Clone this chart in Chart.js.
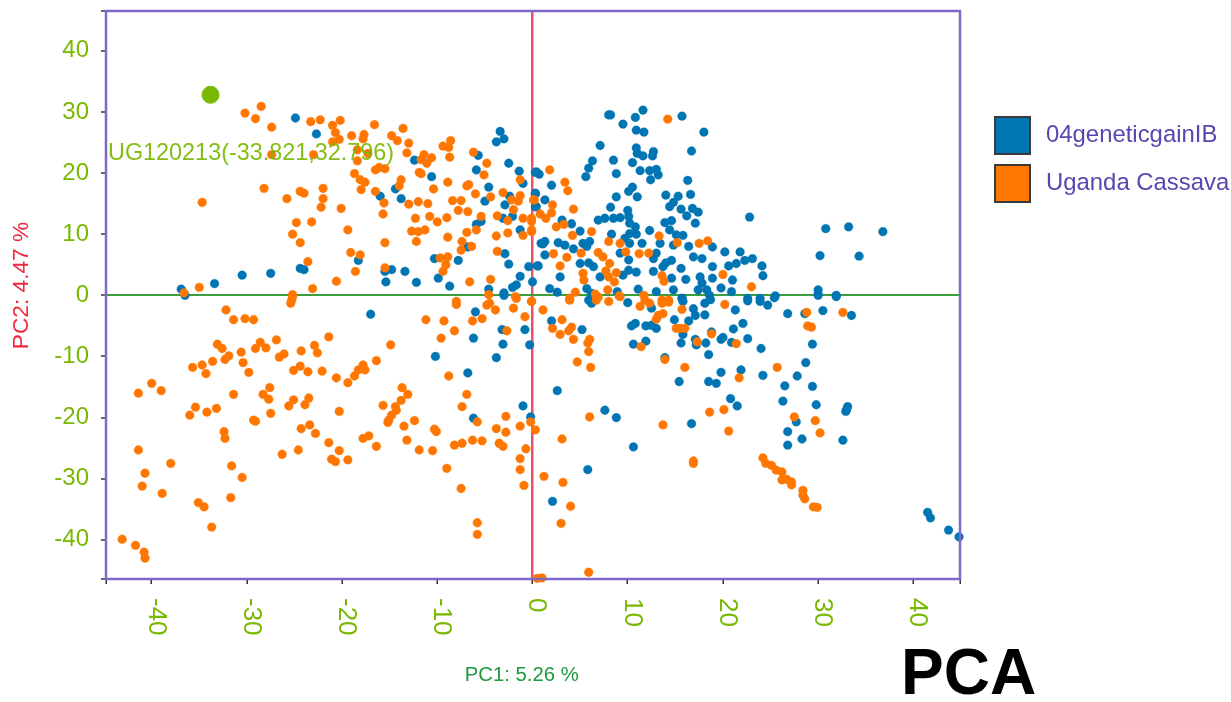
<!DOCTYPE html>
<html><head><meta charset="utf-8">
<script src="https://cdn.jsdelivr.net/npm/chart.js@4/dist/chart.umd.min.js"></script>
<style>html,body{margin:0;padding:0;background:#fff}canvas{display:block}</style></head>
<body><div style="width:1231px;height:702px"><canvas id="c"></canvas></div>
<script>
const seriesNames = ["04geneticgainIB", "Uganda Cassava"];
const xTickValues = [-44.8,-40,-30,-20,-10,0,10,20,30,40,44.9];
const yTickValues = [-46.4,-40,-30,-20,-10,0,10,20,30,40,46.5];
const highlightPoint = [[-33.821,32.796]];
const highlightLabel = "UG120213(-33.821,32.796)";
const geneticGainIB = [
[-36.9,1.0],[-33.4,1.9],[-30.5,3.3],[-27.5,3.6],[-24.9,29.0],[-22.7,26.4],[-24.4,4.4],[-24.0,4.2],[-18.3,5.7],[-16.0,16.2],[-14.4,17.4],[-13.8,15.8],[-12.4,22.1],[-10.6,19.4],[-15.5,3.9],[-14.8,4.2],[-15.4,2.2],[-13.4,3.9],[-12.2,2.1],[-10.3,6.0],[-9.9,2.8],[-8.7,1.5],[-7.8,5.7],[-6.8,7.9],[-3.4,26.8],[-3.8,25.1],[-3.0,25.6],[-5.7,22.9],[-5.9,20.5],[-2.5,21.6],[-1.4,20.3],[0.3,20.1],[-1.0,18.3],[-4.6,17.7],[-5.0,15.4],[-2.4,16.2],[-2.9,14.8],[-2.1,12.9],[0.3,16.6],[0.3,14.5],[-5.9,11.6],[-5.4,12.1],[-3.1,12.6],[-1.3,10.7],[0.9,8.5],[-2.9,6.8],[-2.5,5.1],[-0.4,4.7],[0.5,4.8],[-1.3,3.1],[-1.7,1.7],[-2.1,1.3],[0.0,2.2],[-4.6,1.0],[-3.0,0.4],
[8.0,29.5],[8.2,29.5],[11.6,30.3],[10.8,29.1],[9.5,28.0],[15.7,29.3],[18.0,26.7],[10.9,27.0],[11.7,26.7],[7.1,24.5],[10.9,24.1],[11.0,23.2],[11.6,22.8],[12.7,23.5],[12.6,22.8],[16.7,23.6],[6.3,22.0],[5.9,20.8],[5.6,19.4],[8.5,22.1],[8.8,19.9],[10.5,21.7],[11.3,20.4],[12.3,20.4],[13.0,20.6],[13.2,19.7],[12.4,18.9],[16.3,18.8],[0.4,20.2],[0.7,19.8],[2.0,18.0],[0.3,16.7],[1.3,15.6],[0.4,14.5],[10.5,17.7],[10.1,17.0],[11.0,16.1],[8.8,16.1],[14.0,16.4],[16.6,16.5],[15.3,16.2],[14.8,15.2],[14.4,14.5],[15.6,14.1],[16.8,14.2],[17.4,13.6],[16.2,13.0],[8.2,14.4],[10.0,13.9],[22.8,12.8],[30.8,10.9],[33.2,11.2],[36.8,10.4],[30.2,6.5],[34.3,6.4],[6.9,12.3],[7.6,12.6],[8.5,12.6],[9.2,12.7],[10.1,12.9],[10.2,11.8],[10.8,11.2],[4.1,11.7],[3.1,12.3],[13.9,11.9],[14.6,12.2],[17.1,11.8],[12.3,10.6],[10.2,10.1],[10.9,10.0],[9.7,9.3],[14.4,10.7],[15.1,9.9],[15.8,9.8],[5.0,10.5],[8.3,10.0],[1.3,8.8],[1.1,8.4],[2.7,8.6],[3.4,8.2],[4.3,7.6],[5.3,8.5],[6.0,8.8],[10.2,8.5],[11.5,8.5],[13.4,8.5],[14.8,8.2],[16.4,8.0],[18.9,7.9],[20.2,7.1],[21.8,7.1],[16.9,6.3],[17.8,6.0],[18.9,4.7],[23.1,6.0],[22.3,5.7],[21.4,5.2],[20.6,4.8],[24.1,4.8],[24.2,3.2],[1.3,6.6],[0.6,4.8],[2.9,3.0],[5.0,5.2],[5.9,5.3],[6.4,4.7],[9.2,6.9],[10.1,5.8],[9.5,3.3],[10.1,4.1],[10.9,3.8],[7.1,3.0],[12.7,3.9],[13.0,6.9],[12.7,6.0],[13.7,4.7],[14.6,5.7],[14.0,5.3],[15.6,4.4],[14.6,2.8],[16.1,2.6],[17.6,3.0],[18.9,2.8],[17.8,2.0],[21.0,2.5],[19.8,1.2],[20.9,0.6],[17.4,0.9],[18.3,0.9],[14.8,0.9],[13.0,0.6],[11.1,1.0],[8.9,0.6],[1.8,1.1],[2.6,0.5],[5.7,1.1],[6.2,0.3],[25.5,-0.1],[30.0,0.9],[30.0,0.2],[31.9,0.0],[18.6,0.0],[22.6,-0.5],[23.9,-0.5],[15.7,-0.5],[5.7,8.0],
[-17.0,-3.1],[-10.2,-10.0],[-6.8,-12.7],[-6.2,-7.0],[-6.0,-2.7],[-3.2,-5.6],[-3.1,-8.0],[-3.8,-10.2],[-0.8,-5.6],[-0.3,-8.1],[-1.0,-18.1],[-6.2,-20.1],[-0.2,-19.9],[-36.5,0.0],[-3.0,0.0],
[2.0,-4.2],[5.2,-5.6],[2.6,-15.6],[7.6,-18.8],[8.8,-20.0],[10.6,-24.8],[5.8,-28.5],[2.1,-33.7],[5.9,-0.8],[6.2,-1.3],[10.0,-1.2],[10.4,-5.0],[10.8,-4.6],[11.9,-5.0],[13.0,-5.4],[12.5,-2.1],[12.5,-4.9],[10.6,-8.0],[11.9,-7.5],[14.9,-4.0],[15.7,-0.5],[15.8,-1.0],[16.9,-2.2],[17.1,-3.3],[18.1,-3.2],[16.4,-4.2],[18.1,-1.3],[18.7,-0.7],[15.6,-7.8],[15.8,-6.4],[17.1,-7.2],[17.2,-8.1],[18.2,-7.8],[18.8,-6.0],[18.5,-9.7],[21.1,-5.5],[22.1,-4.6],[21.3,-2.4],[22.6,-0.9],[23.9,-1.0],[24.7,-1.6],[25.4,-0.4],[26.8,-3.0],[28.6,-3.0],[30.5,-2.5],[30.0,0.0],[31.9,-0.2],[33.5,-3.3],[19.8,-7.2],[20.0,-6.9],[20.9,-7.7],[22.6,-7.1],[24.0,-8.7],[29.4,-8.0],[28.7,-11.0],[27.8,-13.2],[26.5,-14.8],[29.4,-14.9],[26.3,-17.3],[29.8,-17.9],[27.7,-20.7],[26.8,-22.3],[28.3,-23.5],[26.8,-24.5],[32.6,-23.7],[33.1,-18.2],[33.0,-18.7],[32.9,-19.0],[24.2,-13.1],[21.9,-12.2],[19.8,-12.6],[15.4,-14.1],[18.5,-14.1],[19.3,-14.4],[20.8,-16.9],[21.5,-18.1],[16.7,-21.0],[13.9,-10.2],[41.5,-35.5],[41.8,-36.4],[43.7,-38.4],[44.8,-39.5]
];
const ugandaCassava = [
[-30.2,29.8],[-29.1,28.9],[-28.5,30.9],[-27.4,27.5],[-23.3,28.4],[-22.3,28.7],[-20.2,28.6],[-21.0,27.8],[-20.7,26.6],[-20.3,25.5],[-21.0,25.1],[-19.0,26.1],[-17.7,26.3],[-17.8,25.6],[-16.6,27.9],[-14.8,26.1],[-14.2,25.3],[-13.6,27.3],[-13.0,24.9],[-13.2,23.3],[-17.3,23.2],[-27.4,23.0],[-23.0,23.0],[-18.4,23.8],[-18.4,22.0],[-8.6,25.3],[-9.4,24.4],[-8.8,24.2],[-8.7,22.6],[-11.4,23.0],[-11.7,22.2],[-10.6,22.5],[-11.1,21.6],[-6.2,23.4],[-4.8,21.6],[-5.1,19.7],[-16.5,20.5],[-16.1,20.9],[-15.5,20.7],[-18.7,19.9],[-18.1,18.9],[-17.6,18.5],[-18.0,17.3],[-13.8,18.9],[-14.0,17.9],[-11.9,20.1],[-11.7,19.9],[-8.9,18.5],[-10.4,17.4],[-6.9,17.9],[-6.7,18.1],[-6.0,16.6],[-1.3,18.9],[-3.1,16.8],[-1.3,16.3],[-2.2,15.6],[-1.5,15.4],[-4.4,16.1],[0.1,15.6],[-28.2,17.5],[-25.8,15.8],[-24.4,17.0],[-24.0,16.7],[-22.0,17.5],[-22.0,15.8],[-22.2,14.4],[-20.1,14.2],[-34.7,15.2],[-16.5,17.0],[-15.6,15.1],[-15.7,13.3],[-13.0,14.9],[-12.0,15.3],[-11.0,15.0],[-8.4,15.5],[-7.5,15.5],[-7.8,13.9],[-6.8,13.7],[-12.3,12.6],[-10.8,12.9],[-10.0,12.0],[-9.0,12.7],[-5.4,12.9],[-3.7,13.0],[-2.6,12.2],[-2.0,14.0],[-1.0,12.6],[-0.1,12.1],[-24.8,11.9],[-23.2,12.0],[-25.2,10.0],[-24.4,8.6],[-19.4,10.7],[-15.5,8.6],[-12.7,10.5],[-12.0,10.4],[-11.3,10.7],[-12.2,8.8],[-8.9,9.5],[-6.9,10.3],[-5.9,10.7],[-7.4,8.8],[-7.5,7.4],[-6.4,8.0],[-3.8,9.7],[-2.6,10.2],[-1.0,9.8],[-0.1,10.7],[-3.7,7.2],[-19.1,7.0],[-18.1,6.6],[-23.6,5.5],[-18.6,3.9],[-15.5,4.5],[-20.6,2.3],[-8.9,6.3],[-9.7,6.1],[-9.1,5.0],[-9.4,3.9],[-6.6,2.2],[-4.4,2.6],[-35.0,1.3],[-36.6,0.4],[-25.2,0.1],[-23.1,1.1],[-4.6,0.1],[-1.8,-0.2],[-0.1,-1.0],[-8.0,-1.0],[-25.3,-0.8],
[14.2,28.8],[1.8,20.5],[3.4,18.5],[3.7,17.1],[4.3,14.1],[0.2,15.6],[2.1,14.8],[2.0,13.5],[0.8,13.3],[1.4,12.6],[-0.1,12.6],[-0.1,10.4],[2.5,11.2],[3.3,11.6],[4.2,9.8],[6.2,10.4],[8.0,8.8],[9.2,8.5],[9.8,7.1],[11.2,6.8],[12.2,6.9],[13.3,9.7],[15.2,8.6],[17.5,8.5],[18.4,8.9],[2.2,6.8],[3.6,6.2],[2.9,4.8],[5.1,6.9],[6.9,7.0],[7.4,6.3],[8.1,5.2],[7.7,4.0],[8.8,3.7],[8.0,3.0],[8.6,2.2],[5.3,3.6],[5.4,2.5],[13.6,3.2],[13.8,2.3],[20.0,3.4],[23.0,1.4],[7.9,0.9],[4.5,0.5],[6.6,0.2],[11.7,0.0],[9.1,-0.1],[3.9,-0.5],[13.6,-0.8],[14.3,-0.8],[6.9,-0.3],
[-32.2,-2.4],[-31.4,-4.0],[-30.2,-3.8],[-29.3,-4.0],[-33.1,-8.0],[-32.6,-8.7],[-31.9,-9.9],[-32.3,-10.5],[-30.6,-9.3],[-30.4,-11.0],[-29.8,-12.6],[-33.6,-10.8],[-35.7,-11.8],[-34.7,-11.4],[-34.3,-12.8],[-29.1,-8.7],[-28.6,-7.7],[-28.0,-8.6],[-26.9,-7.3],[-26.6,-10.1],[-26.1,-9.6],[-24.3,-9.1],[-22.9,-8.2],[-22.6,-9.4],[-21.4,-6.8],[-25.1,-12.3],[-24.4,-11.6],[-23.6,-12.5],[-22.1,-12.4],[-20.6,-13.5],[-19.4,-14.3],[-18.7,-13.2],[-18.3,-12.2],[-17.8,-11.4],[-17.6,-12.2],[-16.4,-10.7],[-14.9,-8.1],[-40.0,-14.4],[-41.4,-16.0],[-39.0,-15.6],[-35.4,-18.3],[-36.0,-19.6],[-34.2,-19.1],[-33.2,-18.5],[-31.4,-16.2],[-28.3,-16.2],[-27.6,-15.1],[-27.7,-17.0],[-27.5,-19.3],[-25.1,-17.1],[-25.6,-18.1],[-23.5,-16.8],[-23.9,-17.9],[-29.3,-20.4],[-29.1,-20.6],[-32.4,-22.3],[-32.3,-23.4],[-24.3,-21.8],[-23.4,-21.2],[-22.8,-22.6],[-20.3,-19.0],[-21.4,-24.1],[-20.3,-25.4],[-21.1,-26.8],[-20.7,-27.2],[-19.4,-26.9],[-26.3,-26.0],[-24.6,-25.3],[-17.8,-23.4],[-17.2,-23.0],[-16.4,-24.7],[-13.7,-15.1],[-13.1,-16.2],[-13.8,-17.2],[-14.4,-18.2],[-14.3,-18.8],[-15.7,-18.0],[-14.8,-19.6],[-15.1,-20.4],[-15.2,-20.8],[-13.5,-21.4],[-12.4,-20.5],[-13.2,-23.7],[-11.9,-25.3],[-10.5,-25.4],[-10.3,-21.9],[-10.1,-22.3],[-41.4,-25.3],[-40.7,-29.1],[-41.0,-31.2],[-38.0,-27.5],[-38.9,-32.4],[-31.6,-27.9],[-30.5,-29.8],[-31.7,-33.1],[-35.1,-33.9],[-34.5,-34.6],[-33.7,-37.9],[-43.1,-39.9],[-41.7,-40.9],[-40.8,-42.0],[-40.7,-43.0],[-11.2,-4.0],[-9.3,-4.2],[-8.0,-1.5],[-8.2,-5.8],[-9.6,-7.0],[-8.8,-13.2],[-6.9,-16.2],[-7.4,-18.2],[-5.8,-20.7],[-2.8,-19.8],[-3.8,-21.8],[-2.8,-22.4],[-1.3,-21.4],[-0.2,-20.7],[0.3,-22.0],[-6.3,-23.7],[-5.3,-23.8],[-7.4,-24.2],[-8.2,-24.5],[-3.5,-24.2],[-3.1,-24.7],[-0.7,-25.1],[-1.3,-26.7],[-1.3,-28.5],[-9.0,-28.3],[-0.9,-31.1],[-7.5,-31.6],[-5.8,-37.2],[-5.8,-39.1],[-6.3,-4.2],[-5.3,-3.8],[-4.8,-1.6],[-4.5,-1.3],[-3.9,-2.4],[-2.0,-2.1],[-0.8,-3.5],[-2.7,-5.8],[-0.1,-1.0],[-1.7,-0.5],[-25.4,-1.3],[-25.2,-0.2],[0.5,-46.3],[1.0,-46.2],
[1.1,-2.4],[3.1,-4.0],[2.1,-5.4],[2.9,-6.4],[4.1,-5.2],[3.8,-5.8],[4.3,-7.2],[6.0,-7.2],[5.8,-7.8],[5.9,-9.2],[4.7,-10.9],[6.1,-11.8],[3.9,-0.8],[6.7,-0.8],[8.0,-1.0],[9.2,-0.2],[11.8,-0.8],[11.3,-1.8],[12.3,-1.3],[13.6,-1.3],[14.3,-1.1],[13.7,-3.0],[13.2,-3.3],[13.0,-3.9],[15.7,-2.3],[20.2,-1.5],[15.1,-5.4],[16.0,-5.4],[15.5,-5.4],[11.4,-8.4],[17.3,-7.6],[18.8,-6.3],[21.4,-7.9],[13.9,-10.5],[16.0,-11.8],[21.7,-13.5],[25.7,-11.8],[28.8,-2.8],[32.6,-2.8],[28.9,-5.0],[29.3,-5.2],[6.0,-19.9],[3.1,-23.5],[13.7,-21.2],[18.6,-19.1],[20.1,-18.7],[20.6,-22.2],[27.5,-19.9],[29.7,-20.5],[30.2,-22.5],[16.9,-27.1],[16.9,-27.5],[1.2,-29.6],[3.2,-30.6],[4.0,-34.5],[3.0,-37.3],[5.9,-45.3],[24.2,-26.6],[24.5,-27.5],[25.1,-27.8],[25.6,-28.6],[26.2,-28.9],[26.2,-30.2],[26.7,-30.1],[27.2,-30.5],[27.2,-31.0],[28.4,-31.9],[28.4,-32.7],[28.6,-33.3],[29.5,-34.6],[29.9,-34.7]
];
const toPoints = list => list.map(p => ({x:p[0], y:p[1]}));
const BLUE="#0075B4", ORANGE="#FF7700", LIME="#78B800", PURPLE="#7F68C9", RED="#E9506C", GREEN="#3C9E3C", FF='"Liberation Sans", Arial, sans-serif';

const extras = {
  id:'extras',
  afterDatasetsDraw(chart){
    const {ctx, chartArea:a} = chart;
    ctx.save();
    ctx.strokeStyle = PURPLE; ctx.lineWidth = 2.5;
    ctx.strokeRect(a.left, a.top, a.right-a.left, a.bottom-a.top);
    ctx.fillStyle = "rgba(120,184,0,0.92)"; ctx.font = '23.4px '+FF;
    ctx.textAlign='left'; ctx.textBaseline='middle';
    ctx.fillText(highlightLabel, 108, 154);
    ctx.restore();
  },
  afterDraw(chart){
    const {ctx} = chart;
    ctx.save();
    const colours=[BLUE,ORANGE];
    seriesNames.forEach((name,i)=>{
      const top = 117+i*48;
      ctx.fillStyle = colours[i]; ctx.strokeStyle="#3a3a3a"; ctx.lineWidth=2;
      ctx.fillRect(995,top,35,37); ctx.strokeRect(995,top,35,37);
      ctx.fillStyle="#5B45B0"; ctx.font='23.9px '+FF; ctx.textAlign='left'; ctx.textBaseline='middle';
      ctx.fillText(name,1046,top+18);
    });
    ctx.fillStyle="#000"; ctx.font='bold 64px '+FF; ctx.textAlign='left'; ctx.textBaseline='alphabetic';
    ctx.fillText("PCA",901,694);
    ctx.restore();
  }
};

new Chart(document.getElementById('c'), {
  type:'scatter',
  data:{datasets:[
    {label:seriesNames[0], data:toPoints(geneticGainIB), backgroundColor:BLUE, borderColor:"rgba(0,117,180,0.3)", borderWidth:1, pointRadius:4.4, order:3, clip:false},
    {label:seriesNames[1], data:toPoints(ugandaCassava), backgroundColor:ORANGE, borderColor:"rgba(255,119,0,0.3)", borderWidth:1, pointRadius:4.4, order:2, clip:false},
    {label:highlightLabel, data:toPoints(highlightPoint), backgroundColor:LIME, borderColor:LIME, pointRadius:8.5, order:1, clip:false}
  ]},
  options:{
    responsive:true, maintainAspectRatio:false, animation:false,
    layout:{padding:{top:11,right:271,left:0,bottom:0}},
    plugins:{legend:{display:false},tooltip:{enabled:false}},
    scales:{
      x:{type:'linear',min:-44.8,max:44.9,
        afterBuildTicks:s=>{s.ticks=xTickValues.map(v=>({value:v})); s._getXAxisLabelAlignment=()=>'left';},
        afterFit:s=>{s.height=123;s.paddingLeft=0;s.paddingRight=0;s.paddingTop=0;s.paddingBottom=0;},
        grid:{drawOnChartArea:true,drawTicks:true,tickLength:5,tickColor:"#333",tickWidth:1.5,
          color:c=>c.tick&&c.tick.value===0?RED:"rgba(0,0,0,0)",lineWidth:2.5},
        border:{display:false},
        ticks:{autoSkip:false,minRotation:-90,maxRotation:-90,color:LIME,padding:14,labelOffset:4,
          font:{family:FF,size:26},callback:v=>Number.isInteger(v)?String(v):''},
        title:{display:true,text:"PC1: 5.26 %    ",color:"#1F9A3C",font:{family:FF,size:20.3},padding:{top:0,bottom:14}}
      },
      y:{type:'linear',min:-46.4,max:46.5,
        afterBuildTicks:s=>{s.ticks=yTickValues.map(v=>({value:v}));},
        afterFit:s=>{s.width=106;s.paddingLeft=0;s.paddingRight=0;s.paddingTop=0;s.paddingBottom=0;},
        grid:{drawOnChartArea:true,drawTicks:true,tickLength:5,tickColor:"#333",tickWidth:1.5,
          color:c=>c.tick&&c.tick.value===0?GREEN:"rgba(0,0,0,0)",lineWidth:2},
        border:{display:false},
        ticks:{autoSkip:false,color:LIME,padding:12,font:{family:FF,size:24},callback:v=>Number.isInteger(v)?String(v):''},
        title:{display:true,text:"   PC2: 4.47 %",color:"#F0283F",font:{family:FF,size:22.7},padding:{top:8,bottom:0}}
      }
    }
  },
  plugins:[extras]
});
</script></body></html>
